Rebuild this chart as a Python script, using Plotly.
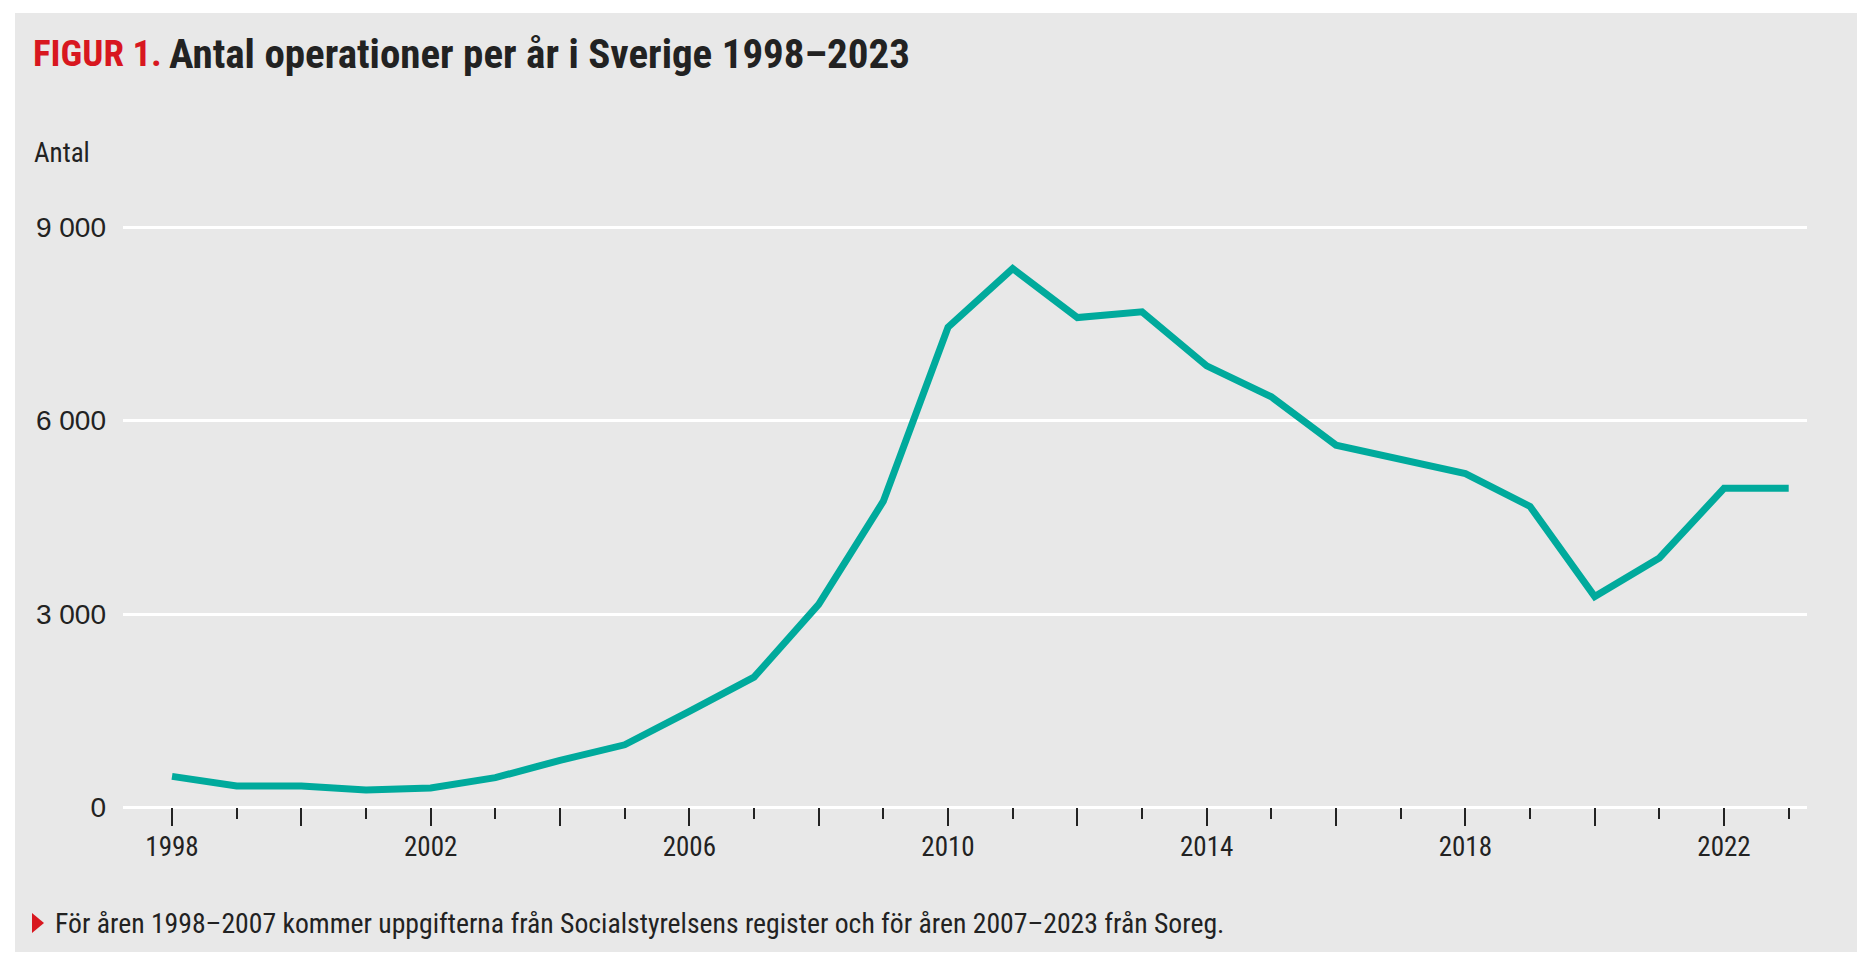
import plotly.graph_objects as go

# ---- data ----
years = list(range(1998, 2024))
counts = [480, 330, 330, 270, 300, 460, 730, 970, 1490, 2020,
          3150, 4750, 7450, 8360, 7600, 7690, 6850, 6370, 5620, 5400,
          5180, 4670, 3270, 3870, 4950, 4950]
major_ticks = list(range(1998, 2023, 2))
major_text = [str(y) if (y - 1998) % 4 == 0 else "" for y in major_ticks]
y_ticks = [0, 3000, 6000, 9000]
y_text = ["0", "3 000", "6 000", "9 000"]

title_red = "FIGUR 1."
title_text = "Antal operationer per år i Sverige 1998–2023"
y_title = "Antal"
footnote = "För åren 1998–2007 kommer uppgifterna från Socialstyrelsens register och för åren 2007–2023 från Soreg."

# ---- layout geometry (pixels) ----
W, H = 1870, 964
L, R = 123, 1807
T, B = 208, 817
YMIN, YMAX = -150, 9300

def px(x):
    return (x - L) / (R - L)

def py(y):
    return (B - y) / (B - T)

NARROW = "Roboto Condensed, DejaVu Sans Condensed, sans-serif"
REG = "Liberation Sans, Arial, sans-serif"
DARK = "#222222"
TEAL = "#00AA9C"
RED = "#D8171F"
BG = "#E8E8E8"

fig = go.Figure()
fig.add_trace(go.Scatter(
    x=years, y=counts, mode="lines",
    line=dict(color=TEAL, width=7),
    hoverinfo="skip", showlegend=False,
))

fig.update_layout(
    width=W, height=H,
    margin=dict(l=L, r=W - R, t=T, b=H - B, pad=0),
    paper_bgcolor="white",
    plot_bgcolor=BG,
    showlegend=False,
    xaxis=dict(
        range=[1997.242, 2023.283],
        tickvals=major_ticks, ticktext=major_text,
        ticks="outside", ticklen=18, tickwidth=2, tickcolor=DARK,
        tickfont=dict(family=NARROW, size=27, color=DARK),
        showgrid=False, zeroline=False, showline=False,
        anchor="free", position=(0 - YMIN) / (YMAX - YMIN),
        minor=dict(dtick=1, tick0=1999, ticks="outside", ticklen=11,
                   tickwidth=2, tickcolor=DARK, showgrid=False),
        ticklabelstandoff=-3,
    ),
    yaxis=dict(
        range=[YMIN, YMAX],
        tickvals=y_ticks, ticktext=y_text,
        ticks="", showgrid=True, gridcolor="white", gridwidth=3,
        zeroline=False, showline=False,
        tickfont=dict(family=REG, size=28, color=DARK),
        ticklabelstandoff=16,
    ),
    shapes=[
        dict(type="rect", xref="paper", yref="paper",
             x0=px(15), x1=px(1857), y0=py(952), y1=py(13),
             fillcolor=BG, line=dict(width=0), layer="below"),
        dict(type="path", xref="paper", yref="paper",
             path=f"M {px(32)},{py(913)} L {px(44)},{py(923)} L {px(32)},{py(933)} Z",
             fillcolor=RED, line=dict(width=0)),
    ],
    annotations=[
        dict(text=f"<b>{title_red}</b>", xref="paper", yref="paper",
             x=px(31), y=py(53), xanchor="left", yanchor="middle",
             showarrow=False, font=dict(family=NARROW, size=37, color=RED)),
        dict(text=f"<b>{title_text}</b>", xref="paper", yref="paper",
             x=px(167), y=py(54), xanchor="left", yanchor="middle",
             showarrow=False, font=dict(family=NARROW, size=41, color=DARK)),
        dict(text=y_title, xref="paper", yref="paper",
             x=px(32), y=py(153), xanchor="left", yanchor="middle",
             showarrow=False, font=dict(family=NARROW, size=27, color=DARK)),
        dict(text=footnote, xref="paper", yref="paper",
             x=px(53), y=py(924), xanchor="left", yanchor="middle",
             showarrow=False, font=dict(family=NARROW, size=27.7, color=DARK)),
    ],
)

fig.write_html("out.html", config={"displayModeBar": False},
               post_script="document.body.style.margin='0px';")
